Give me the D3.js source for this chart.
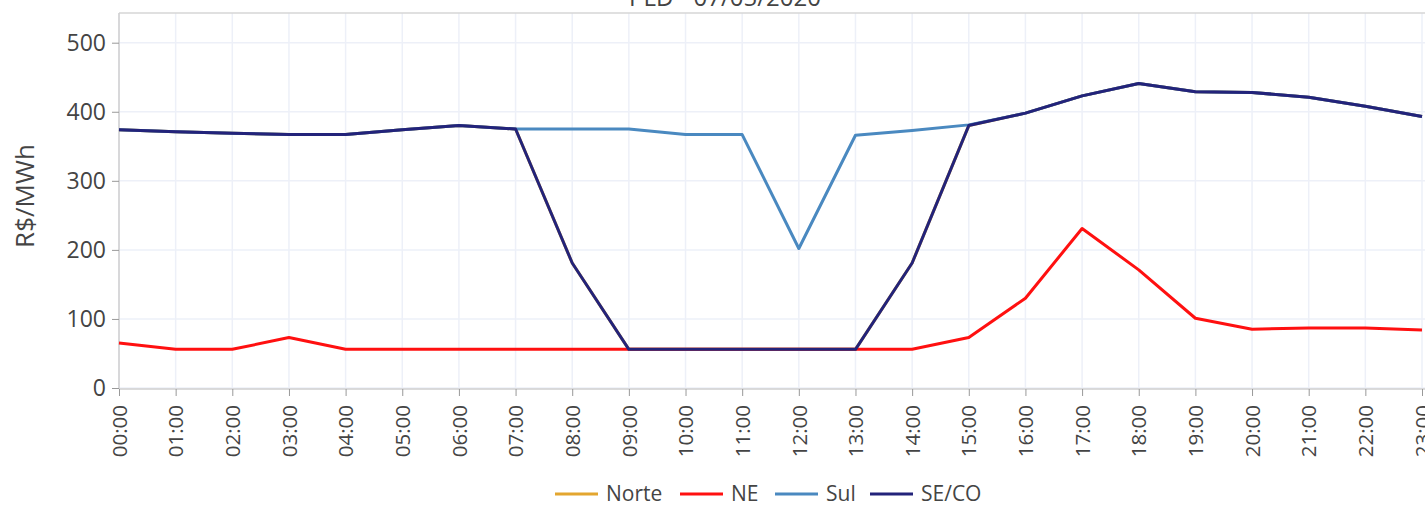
<!DOCTYPE html>
<html>
<head>
<meta charset="utf-8">
<script src="https://cdn.jsdelivr.net/npm/d3@7"></script>
<style>
  body { margin: 0; background: #fff; overflow: hidden; }
  svg { display: block; font-family: "Open Sans", "Noto Sans", sans-serif; }
</style>
</head>
<body>
<svg id="chart" width="1425" height="505"></svg>
<script>
// dados do gráfico
var horas = ['00:00','01:00','02:00','03:00','04:00','05:00','06:00','07:00','08:00','09:00','10:00','11:00',
             '12:00','13:00','14:00','15:00','16:00','17:00','18:00','19:00','20:00','21:00','22:00','23:00'];
var norte = [374, 371, 369, 367, 367, 374, 380, 375, 181, 56, 56, 56, 56, 56, 181, 380, 398, 423, 441, 429, 428, 421, 408, 393];
var ne    = [65, 56, 56, 73, 56, 56, 56, 56, 56, 56, 56, 56, 56, 56, 56, 73, 130, 231, 171, 101, 85, 87, 87, 84];
var sul   = [374, 371, 369, 367, 367, 374, 380, 375, 375, 375, 367, 367, 202, 366, 373, 381, 398, 423, 441, 429, 428, 421, 408, 393];
var seco  = [374, 371, 369, 367, 367, 374, 380, 375, 181, 56, 56, 56, 56, 56, 181, 380, 398, 423, 441, 429, 428, 421, 408, 393];
var yTicks = [0, 100, 200, 300, 400, 500];
var nomes = ['Norte', 'NE', 'Sul', 'SE/CO'];
var cores = ['#E3A62F', '#FF1010', '#4A89C0', '#23237A'];
var series = [norte, ne, sul, seco];

var svg = d3.select('#chart');
var mLeft = 119, mRight = 1422, mTop = 13, mBottom = 388;

var x = d3.scalePoint().domain(horas).range([mLeft, mRight]);
var y = d3.scaleLinear().domain([0, 543]).range([mBottom, mTop]);

// grade
svg.append('g').selectAll('line')
  .data(horas).enter().append('line')
  .attr('x1', function(d) { return x(d); }).attr('x2', function(d) { return x(d); })
  .attr('y1', mTop).attr('y2', mBottom)
  .attr('stroke', '#EDF0F8').attr('stroke-width', 1.5);
svg.append('g').selectAll('line')
  .data(yTicks).enter().append('line')
  .attr('x1', mLeft).attr('x2', 1425)
  .attr('y1', function(d) { return y(d); }).attr('y2', function(d) { return y(d); })
  .attr('stroke', '#EDF0F8').attr('stroke-width', 1.5);

// borda superior
svg.append('line').attr('x1', mLeft).attr('x2', 1425).attr('y1', mTop).attr('y2', mTop)
  .attr('stroke', '#D6D6D6').attr('stroke-width', 1.5);

// eixos
var gx = svg.append('g').attr('transform', 'translate(0,' + (mBottom + 1) + ')')
  .call(d3.axisBottom(x).tickSize(7).tickPadding(6));
gx.select('.domain').attr('stroke', '#CFCFCF').attr('stroke-width', 1.5)
  .attr('d', 'M' + mLeft + ',0H1425');
gx.selectAll('.tick line').attr('stroke', '#999');
gx.selectAll('.tick text')
  .attr('transform', 'rotate(-90)')
  .attr('text-anchor', 'end')
  .attr('x', -16).attr('y', 0).attr('dy', '0.35em')
  .attr('font-size', 20.5).attr('fill', '#444')
  .attr('font-family', '"Open Sans", sans-serif');

var gy = svg.append('g').attr('transform', 'translate(' + mLeft + ',0)')
  .call(d3.axisLeft(y).tickValues(yTicks).tickSize(7).tickPadding(6));
gy.select('.domain').attr('stroke', '#CFCFCF').attr('stroke-width', 1.5)
  .attr('d', 'M0,' + mTop + 'V' + (mBottom + 1));
gy.selectAll('.tick line').attr('stroke', '#999');
gy.selectAll('.tick text').attr('font-size', 23).attr('fill', '#444')
  .attr('font-family', '"Open Sans", sans-serif');

// título do eixo Y
svg.append('text')
  .attr('transform', 'translate(34,196) rotate(-90)')
  .attr('text-anchor', 'middle')
  .attr('font-size', 26).attr('fill', '#444')
  .text('R$/MWh');

// título
svg.append('text')
  .attr('x', 725).attr('y', 6)
  .attr('text-anchor', 'middle')
  .attr('font-size', 24).attr('fill', '#444')
  .text('PLD - 07/05/2020');

// linhas
var linha = d3.line()
  .x(function(d, i) { return x(horas[i]); })
  .y(function(d) { return y(d); });

svg.append('g').selectAll('path')
  .data(series).enter().append('path')
  .attr('d', linha)
  .attr('fill', 'none')
  .attr('stroke', function(d, i) { return cores[i]; })
  .attr('stroke-width', 3)
  .attr('stroke-linejoin', 'round');

// legenda
var legX = [555, 680, 775, 870];
var leg = svg.append('g').selectAll('g')
  .data(nomes).enter().append('g')
  .attr('transform', function(d, i) { return 'translate(' + legX[i] + ',494)'; });
leg.append('line')
  .attr('x1', 0).attr('x2', 43).attr('y1', 0).attr('y2', 0)
  .attr('stroke', function(d, i) { return cores[i]; })
  .attr('stroke-width', 3);
leg.append('text')
  .attr('x', 51).attr('dy', '0.35em')
  .attr('font-size', 21).attr('fill', '#444')
  .text(function(d) { return d; });
</script>
</body>
</html>
